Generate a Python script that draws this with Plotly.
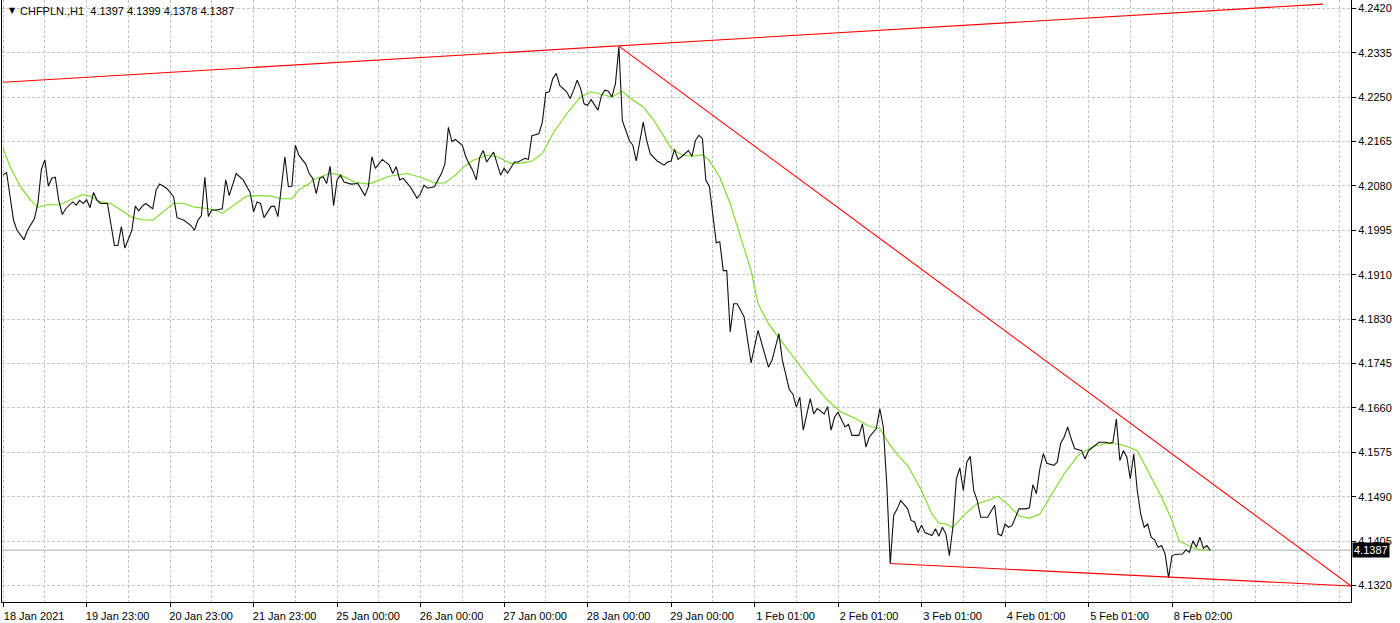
import numpy as np
import plotly.graph_objects as go

# ---------------- data ----------------
symbol_title = "CHFPLN.,H1&nbsp;&nbsp;4.1397 4.1399 4.1378 4.1387"

close_bar = [
    0, 1, 3, 4, 6, 7, 9, 10, 11, 12,
    13, 14, 15, 16, 17, 18, 20, 21, 22, 23,
    24, 25, 26, 27, 28, 30, 32, 33, 34, 35,
    37, 38, 39, 40, 41, 43, 44, 45, 47, 49,
    50, 51, 52, 54, 55, 56, 57, 58, 59, 60,
    61, 63, 64, 65, 66, 67, 69, 71, 72, 73,
    74, 75, 77, 78, 79, 80, 81, 82, 83, 84,
    85, 87, 88, 89, 90, 91, 92, 93, 94, 95,
    96, 97, 98, 100, 102, 104, 105, 106, 107, 109,
    111, 112, 113, 114, 115, 117, 119, 120, 121, 122,
    124, 125, 126, 127, 128, 129, 130, 132, 133, 134,
    135, 136, 137, 138, 139, 141, 142, 143, 144, 145,
    147, 148, 150, 151, 152, 154, 155, 156, 157, 158,
    159, 160, 162, 163, 164, 165, 166, 167, 168, 169,
    171, 172, 173, 174, 175, 176, 177, 178, 179, 180,
    181, 182, 184, 185, 186, 188, 190, 191, 192, 193,
    194, 195, 197, 198, 199, 200, 201, 202, 203, 204,
    205, 206, 207, 208, 209, 210, 211, 213, 215, 217,
    218, 220, 221, 223, 224, 226, 227, 228, 229, 230,
    232, 233, 234, 236, 237, 238, 239, 240, 242, 243,
    244, 246, 247, 248, 249, 251, 252, 253, 254, 255,
    256, 257, 258, 260, 261, 262, 263, 264, 265, 266,
    267, 268, 269, 270, 271, 272, 273, 274, 275, 276,
    277, 278, 279, 280, 281, 283, 284, 285, 286, 287,
    288, 289, 290, 291, 292, 294, 295, 296, 297, 298,
    299, 300, 302, 303, 304, 305, 306, 307, 308, 310,
    311, 312, 314, 315, 317, 318, 319, 320, 321, 322,
    323, 324, 325, 326, 327, 328, 329, 330, 331, 332,
    333, 334, 335, 336, 337, 339, 340, 341, 342, 343,
    344, 345, 346, 347,
]
close_price = [
    4.2102, 4.2107, 4.2016, 4.1997, 4.1979, 4.1997, 4.2019, 4.2048, 4.2113, 4.2131,
    4.2081, 4.2096, 4.2098, 4.2054, 4.2027, 4.2038, 4.2051, 4.2045, 4.2054, 4.2048,
    4.2055, 4.2040, 4.2069, 4.2054, 4.2048, 4.2048, 4.1968, 4.1968, 4.2004, 4.1963,
    4.1997, 4.2043, 4.2034, 4.2043, 4.2048, 4.2038, 4.2074, 4.2085, 4.2077, 4.2061,
    4.2021, 4.2019, 4.2016, 4.2006, 4.1997, 4.2016, 4.2025, 4.2098, 4.2023, 4.2036,
    4.2035, 4.2038, 4.2093, 4.2063, 4.2086, 4.2105, 4.2093, 4.2069, 4.2032, 4.2051,
    4.2048, 4.2021, 4.2042, 4.2043, 4.2023, 4.2083, 4.2137, 4.2080, 4.2081, 4.2159,
    4.2140, 4.2123, 4.2105, 4.2096, 4.2067, 4.2096, 4.2099, 4.2086, 4.2119, 4.2044,
    4.2093, 4.2102, 4.2089, 4.2085, 4.2086, 4.2063, 4.2080, 4.2137, 4.2115, 4.2132,
    4.2121, 4.2105, 4.2118, 4.2093, 4.2096, 4.2080, 4.2058, 4.2067, 4.2083, 4.2077,
    4.2080, 4.2093, 4.2105, 4.2124, 4.2193, 4.2166, 4.2170, 4.2159, 4.2137, 4.2123,
    4.2111, 4.2093, 4.2136, 4.2149, 4.2127, 4.2146, 4.2124, 4.2102, 4.2115, 4.2106,
    4.2127, 4.2127, 4.2134, 4.2132, 4.2177, 4.2181, 4.2203, 4.2259, 4.2261, 4.2286,
    4.2296, 4.2273, 4.2261, 4.2248, 4.2264, 4.2283, 4.2267, 4.2238, 4.2235, 4.2246,
    4.2226, 4.2254, 4.2264, 4.2262, 4.2251, 4.2276, 4.2346, 4.2206, 4.2187, 4.2168,
    4.2159, 4.2129, 4.2203, 4.2168, 4.2143, 4.2129, 4.2121, 4.2127, 4.2129, 4.2151,
    4.2132, 4.2137, 4.2149, 4.2138, 4.2168, 4.2178, 4.2172, 4.2092, 4.2081, 4.2022,
    4.1973, 4.1975, 4.1920, 4.1920, 4.1803, 4.1857, 4.1857, 4.1832, 4.1744, 4.1806,
    4.1784, 4.1736, 4.1749, 4.1800, 4.1749, 4.1693, 4.1685, 4.1660, 4.1679, 4.1616,
    4.1676, 4.1647, 4.1657, 4.1647, 4.1661, 4.1616, 4.1641, 4.1650, 4.1622, 4.1627,
    4.1606, 4.1606, 4.1628, 4.1584, 4.1603, 4.1619, 4.1657, 4.1622, 4.1514, 4.1361,
    4.1454, 4.1466, 4.1482, 4.1466, 4.1444, 4.1441, 4.1421, 4.1435, 4.1421, 4.1418,
    4.1415, 4.1428, 4.1414, 4.1431, 4.1418, 4.1377, 4.1431, 4.1523, 4.1544, 4.1501,
    4.1555, 4.1566, 4.1501, 4.1482, 4.1450, 4.1450, 4.1462, 4.1473, 4.1418, 4.1415,
    4.1437, 4.1431, 4.1434, 4.1450, 4.1466, 4.1466, 4.1468, 4.1512, 4.1495, 4.1542,
    4.1571, 4.1553, 4.1549, 4.1555, 4.1591, 4.1603, 4.1622, 4.1600, 4.1581, 4.1577,
    4.1561, 4.1577, 4.1587, 4.1593, 4.1593, 4.1591, 4.1593, 4.1637, 4.1558, 4.1577,
    4.1565, 4.1523, 4.1571, 4.1501, 4.1456, 4.1431, 4.1437, 4.1412, 4.1407, 4.1393,
    4.1396, 4.1380, 4.1335, 4.1377, 4.1379, 4.1380, 4.1388, 4.1383, 4.1405, 4.1393,
    4.1412, 4.1391, 4.1396, 4.1387,
]

ma_bar = [
    0, 2, 5, 8, 10, 13, 16, 19, 23, 25,
    28, 31, 34, 37, 40, 43, 46, 49, 52, 55,
    58, 61, 63, 66, 70, 73, 77, 80, 83, 85,
    88, 89, 94, 97, 101, 105, 108, 111, 116, 120,
    124, 127, 130, 133, 135, 139, 142, 146, 149, 152,
    155, 158, 162, 166, 169, 172, 175, 178, 180, 184,
    187, 190, 192, 195, 198, 201, 203, 206, 209, 212,
    215, 217, 220, 223, 226, 229, 233, 237, 241, 245,
    249, 252, 255, 258, 260, 264, 267, 269, 271, 273,
    276, 280, 283, 286, 289, 292, 295, 298, 301, 305,
    309, 313, 317, 320, 323, 326, 329, 333, 336, 338,
    342, 344, 347,
]
ma_price = [
    4.2153, 4.2118, 4.2080, 4.2054, 4.2041, 4.2046, 4.2045, 4.2053, 4.2065, 4.2062,
    4.2051, 4.2048, 4.2035, 4.2022, 4.2017, 4.2016, 4.2032, 4.2049, 4.2048, 4.2041,
    4.2039, 4.2036, 4.2029, 4.2043, 4.2062, 4.2063, 4.2062, 4.2057, 4.2057, 4.2074,
    4.2086, 4.2093, 4.2106, 4.2102, 4.2089, 4.2085, 4.2093, 4.2100, 4.2105, 4.2098,
    4.2087, 4.2087, 4.2102, 4.2121, 4.2130, 4.2140, 4.2137, 4.2124, 4.2125, 4.2129,
    4.2143, 4.2181, 4.2219, 4.2251, 4.2261, 4.2256, 4.2251, 4.2262, 4.2250, 4.2232,
    4.2207, 4.2175, 4.2153, 4.2141, 4.2138, 4.2141, 4.2130, 4.2098, 4.2048, 4.1984,
    4.1920, 4.1857, 4.1819, 4.1792, 4.1765, 4.1739, 4.1704, 4.1673, 4.1650, 4.1638,
    4.1623, 4.1619, 4.1587, 4.1562, 4.1549, 4.1501, 4.1456, 4.1439, 4.1437, 4.1430,
    4.1453, 4.1476, 4.1482, 4.1490, 4.1473, 4.1453, 4.1448, 4.1456, 4.1488, 4.1533,
    4.1568, 4.1584, 4.1591, 4.1590, 4.1585, 4.1577, 4.1539, 4.1488, 4.1444, 4.1405,
    4.1392, 4.1388, 4.1387,
]

# trend lines (anchor points)
upper_bar = [0, 379.4]
upper_price = [4.2279, 4.2428]
down_bar = [177, 387.5]
down_price = [4.2348, 4.1319]
lower_bar = [255, 387.5]
lower_price = [4.1362, 4.1319]

current_price = 4.1387
current_label = "4.1387"

y_tick_labels = ["4.1320", "4.1405", "4.1490", "4.1575", "4.1660", "4.1745", "4.1830",
                 "4.1910", "4.1995", "4.2080", "4.2165", "4.2250", "4.2335", "4.2420"]
x_tick_bars = [0, 24, 48, 72, 96, 120, 144, 168, 192, 216, 240, 264, 288, 312, 336]
x_tick_labels = ["18 Jan 2021", "19 Jan 23:00", "20 Jan 23:00", "21 Jan 23:00",
                 "25 Jan 00:00", "26 Jan 00:00", "27 Jan 00:00", "28 Jan 00:00",
                 "29 Jan 00:00", "1 Feb 01:00", "2 Feb 01:00", "3 Feb 01:00",
                 "4 Feb 01:00", "5 Feb 01:00", "8 Feb 02:00"]

# ---------------- figure ----------------
X_RANGE = [-0.316, 387.44]
Y_RANGE = [4.12885, 4.24358]
FONT = "Liberation Sans, Arial, sans-serif"
GRID = "#c4c4c4"

y_tick_vals = np.linspace(float(y_tick_labels[0]), float(y_tick_labels[-1]), len(y_tick_labels))

fig = go.Figure()

fig.add_trace(go.Scatter(x=X_RANGE, y=[current_price, current_price], mode="lines",
                         line=dict(color="#c8c8c8", width=1.5), hoverinfo="skip"))
fig.add_trace(go.Scatter(x=ma_bar, y=ma_price, mode="lines",
                         line=dict(color="#7ada22", width=1.1), name="MA"))
fig.add_trace(go.Scatter(x=close_bar, y=close_price, mode="lines",
                         line=dict(color="#111111", width=1.1), name="Close"))
for bx, py in [(upper_bar, upper_price), (down_bar, down_price), (lower_bar, lower_price)]:
    fig.add_trace(go.Scatter(x=bx, y=py, mode="lines",
                             line=dict(color="#ff0000", width=1.1), hoverinfo="skip"))

fig.update_layout(
    width=1400, height=623,
    margin=dict(l=2, r=49, t=0, b=21, autoexpand=False),
    paper_bgcolor="white", plot_bgcolor="white",
    showlegend=False,
    font=dict(family=FONT, size=11, color="black"),
    xaxis=dict(
        range=X_RANGE, tickmode="array", tickvals=x_tick_bars, ticktext=x_tick_labels,
        ticks="outside", ticklen=4, tickcolor="black", tickwidth=1,
        showline=True, linecolor="black", linewidth=1,
        showgrid=True, gridcolor=GRID, griddash="3px,2px", gridwidth=1,
        minor=dict(tickmode="linear", tick0=0, dtick=12, showgrid=True,
                   gridcolor=GRID, griddash="3px,2px", gridwidth=1, ticks=""),
        zeroline=False, tickfont=dict(family=FONT, size=11, color="black"),
        ticklabelshift=31, ticklabelstandoff=0, automargin=False,
    ),
    yaxis=dict(
        side="right", range=Y_RANGE, tickmode="array", tickvals=y_tick_vals,
        ticktext=y_tick_labels, ticks="outside", ticklen=4, tickcolor="black",
        showline=True, mirror=True, linecolor="black", linewidth=1,
        showgrid=True, gridcolor=GRID, griddash="3px,2px", gridwidth=1,
        zeroline=False, tickfont=dict(family=FONT, size=11, color="black"),
        automargin=False,
    ),
)

fig.add_annotation(xref="paper", yref="paper", x=0.0035, y=0.982, xanchor="left",
                   yanchor="middle", text="▼", showarrow=False,
                   font=dict(family="DejaVu Sans", size=8, color="black"))
fig.add_annotation(xref="paper", yref="paper", x=0.0118, y=0.982, xanchor="left",
                   yanchor="middle", text=symbol_title, showarrow=False,
                   font=dict(family=FONT, size=11, color="black"))
fig.add_annotation(xref="paper", yref="y", x=1, y=current_price, xanchor="left",
                   yanchor="middle", text=current_label, showarrow=False,
                   bgcolor="black", borderpad=1, xshift=1,
                   font=dict(family=FONT, size=11, color="white"))

fig.write_html(
    "out.html",
    config={"displayModeBar": False},
    post_script="document.body.style.margin='0';document.body.style.padding='0';",
)
